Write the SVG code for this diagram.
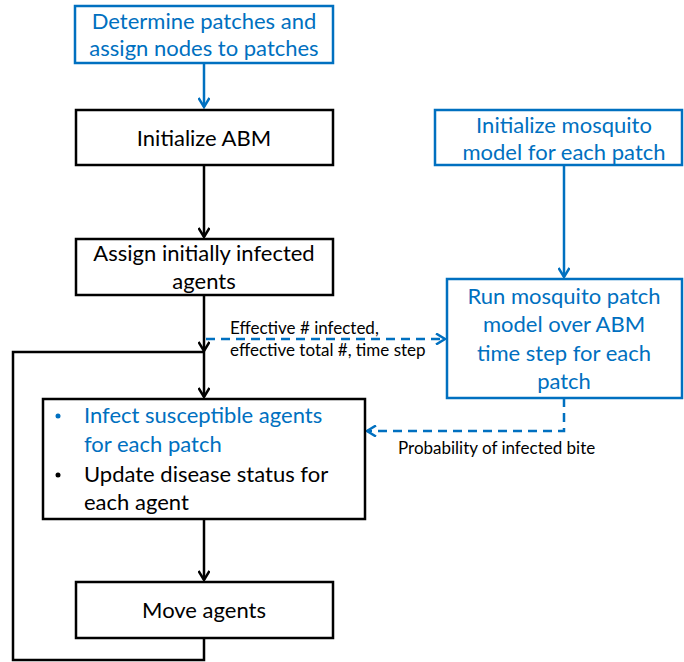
<svg xmlns="http://www.w3.org/2000/svg" width="684" height="662" viewBox="0 0 684 662">
<style>
text{font-family:Lato,"Open Sans","Liberation Sans",sans-serif;}
.bb{fill:#fff;stroke:#0070C0;stroke-width:2.5;}
.kb{fill:#fff;stroke:#000;stroke-width:2.5;}
.t{font-size:22px;text-anchor:middle;fill:#000;}
.tb{font-size:22px;text-anchor:middle;fill:#0070C0;}
.lab{font-size:17px;fill:#000;}
.k{fill:none;stroke:#000;stroke-width:2.5;}
.b{fill:none;stroke:#0070C0;stroke-width:2.5;}
.d{fill:none;stroke:#0070C0;stroke-width:2.5;stroke-dasharray:9 6;}
</style>
<defs>
<marker id="ak" markerWidth="12" markerHeight="12" refX="10" refY="6" orient="auto" markerUnits="userSpaceOnUse"><path d="M1,0.5 L10,6 L1,11.5" fill="none" stroke="#000" stroke-width="2.5"/></marker>
<marker id="ab" markerWidth="12" markerHeight="12" refX="10" refY="6" orient="auto" markerUnits="userSpaceOnUse"><path d="M1,0.5 L10,6 L1,11.5" fill="none" stroke="#0070C0" stroke-width="2.5"/></marker>
</defs>
<g id="connectors">
<path class="b" d="M204,63 V107" marker-end="url(#ab)"/>
<path class="k" d="M204,165 V237" marker-end="url(#ak)"/>
<path class="k" d="M204,295 V351" marker-end="url(#ak)"/>
<path class="k" d="M204,638 V660 H13 V352 H204 V397" marker-end="url(#ak)"/>
<path class="k" d="M204,519 V580" marker-end="url(#ak)"/>
<path class="b" d="M564,165 V277" marker-end="url(#ab)"/>
<path class="d" d="M206,339 H445" marker-end="url(#ab)"/>
<path class="d" d="M564,398 V431 H367" marker-end="url(#ab)"/>
<text class="lab" x="230" y="334">Effective # infected,</text>
<text class="lab" x="230" y="356">effective total #, time step</text>
<text class="lab" x="398" y="454">Probability of infected bite</text>
</g>
<g id="n1"><rect class="bb" x="75" y="6" width="258" height="57"/>
<text class="tb" x="204" y="29">Determine patches and</text>
<text class="tb" x="204" y="56">assign nodes to patches</text></g>
<g id="n2"><rect class="kb" x="76" y="110" width="257" height="55"/>
<text class="t" x="204" y="146">Initialize ABM</text></g>
<g id="n3"><rect class="kb" x="76" y="239" width="257" height="56"/>
<text class="t" x="204" y="261">Assign initially infected</text>
<text class="t" x="204" y="289">agents</text></g>
<g id="n4"><rect class="kb" x="43" y="399" width="322" height="120"/>
<circle cx="58" cy="416" r="2.5" fill="#0070C0"/>
<text x="84" y="423" font-size="22" fill="#0070C0">Infect susceptible agents</text>
<text x="84" y="452" font-size="22" fill="#0070C0">for each patch</text>
<circle cx="58" cy="475" r="2.5" fill="#000"/>
<text x="84" y="482" font-size="22" fill="#000">Update disease status for</text>
<text x="84" y="510" font-size="22" fill="#000">each agent</text></g>
<g id="n5"><rect class="kb" x="76" y="582" width="257" height="56"/>
<text class="t" x="204" y="618">Move agents</text></g>
<g id="n6"><rect class="bb" x="435" y="110" width="247" height="55"/>
<text class="tb" x="564" y="133">Initialize mosquito</text>
<text class="tb" x="564" y="160">model for each patch</text></g>
<g id="n7"><rect class="bb" x="447" y="279" width="235" height="119"/>
<text class="tb" x="564" y="304">Run mosquito patch</text>
<text class="tb" x="564" y="332">model over ABM</text>
<text class="tb" x="564" y="361">time step for each</text>
<text class="tb" x="564" y="389">patch</text></g>
</svg>
